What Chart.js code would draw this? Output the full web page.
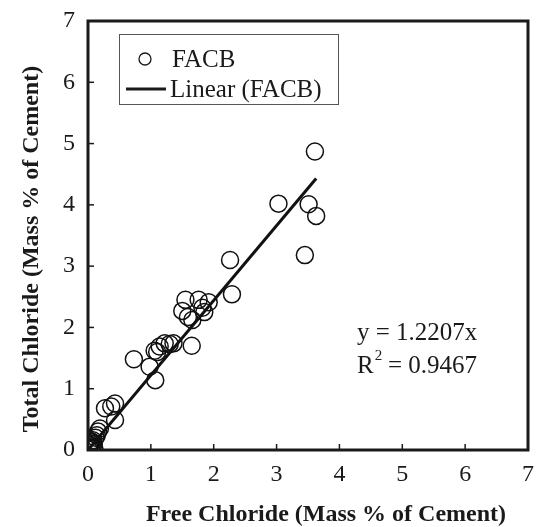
<!DOCTYPE html>
<html>
<head>
<script src="https://cdn.jsdelivr.net/npm/chart.js"></script>
<style>
  body { margin: 0; background: #fff; }
  canvas { display: block; }
</style>
</head>
<body>
<canvas id="chart" width="538" height="527"></canvas>
<script>
// free chloride (x) and total chloride (y), mass % of cement
const freeCl = [0.01, 0.02, 0.02, 0.03, 0.04, 0.05, 0.05, 0.06, 0.07, 0.08, 0.09, 0.10,
                0.12, 0.14, 0.16, 0.19,
                0.27, 0.37, 0.43, 0.43,
                0.73, 0.98, 1.07, 1.06, 1.10, 1.14, 1.22, 1.30, 1.36, 1.65,
                1.50, 1.55, 1.59, 1.66, 1.76, 1.82, 1.85, 1.92,
                2.26, 2.29, 3.03, 3.45, 3.51, 3.61, 3.63];
const totalCl = [0.01, 0.05, 0.09, 0.11, 0.03, 0.02, 0.13, 0.14, 0.06, 0.16, 0.10, 0.03,
                 0.20, 0.24, 0.30, 0.35,
                 0.68, 0.71, 0.76, 0.49,
                 1.48, 1.36, 1.14, 1.62, 1.60, 1.69, 1.74, 1.73, 1.74, 1.70,
                 2.27, 2.45, 2.17, 2.12, 2.45, 2.32, 2.25, 2.41,
                 3.10, 2.54, 4.02, 3.18, 4.01, 4.87, 3.82];
const slope = 1.2207;
const rSquared = 0.9467;
const fitRange = [0, 3.63];
const axisTicks = [0, 1, 2, 3, 4, 5, 6, 7];

const serif = "'Liberation Serif', 'Times New Roman', serif";

const points = freeCl.map((x, i) => ({ x: x, y: totalCl[i] }));
const fitLine = fitRange.map(x => ({ x: x, y: slope * x }));

// frame, inward ticks, legend box, equation and axis titles
const decor = {
  id: 'decor',
  afterDraw(chart) {
    const ctx = chart.ctx;
    const a = chart.chartArea;
    const xs = chart.scales.x, ys = chart.scales.y;
    ctx.save();
    ctx.strokeStyle = '#1a1a1a';
    ctx.lineWidth = 1.5;
    axisTicks.forEach(v => {
      const px = xs.getPixelForValue(v);
      ctx.beginPath(); ctx.moveTo(px, a.bottom); ctx.lineTo(px, a.bottom - 6); ctx.stroke();
      const py = ys.getPixelForValue(v);
      ctx.beginPath(); ctx.moveTo(a.left, py); ctx.lineTo(a.left + 6, py); ctx.stroke();
    });
    ctx.lineWidth = 3;
    ctx.strokeRect(a.left, a.top, a.right - a.left, a.bottom - a.top);

    // legend
    ctx.lineWidth = 1;
    ctx.strokeStyle = '#555';
    ctx.strokeRect(119.5, 34.5, 219, 70);
    ctx.fillStyle = '#1a1a1a';
    ctx.font = '25px ' + serif;
    ctx.textBaseline = 'alphabetic';
    ctx.textAlign = 'left';
    ctx.strokeStyle = '#1a1a1a';
    ctx.lineWidth = 1.3;
    ctx.beginPath(); ctx.arc(145, 59, 6, 0, Math.PI * 2); ctx.stroke();
    ctx.fillText(chart.data.datasets[0].label, 172, 67);
    ctx.lineWidth = 3;
    ctx.beginPath(); ctx.moveTo(126, 89); ctx.lineTo(166, 89); ctx.stroke();
    ctx.fillText(chart.data.datasets[1].label, 170, 97);

    // equation
    ctx.font = '25px ' + serif;
    ctx.fillText('y = ' + slope.toFixed(4) + 'x', 357, 340);
    ctx.fillText('R', 357, 373);
    const rw = ctx.measureText('R').width;
    ctx.font = '15px ' + serif;
    ctx.fillText('2', 357 + rw + 1, 360);
    ctx.font = '25px ' + serif;
    ctx.fillText(' = ' + rSquared.toFixed(4), 357 + rw + 8, 373);

    // axis titles
    ctx.font = 'bold 24px ' + serif;
    ctx.textAlign = 'center';
    ctx.fillText('Free Chloride (Mass % of Cement)', 326, 521);
    ctx.translate(38, 249);
    ctx.rotate(-Math.PI / 2);
    ctx.fillText('Total Chloride (Mass % of Cement)', 0, 0);
    ctx.restore();
  }
};

new Chart(document.getElementById('chart'), {
  type: 'scatter',
  data: {
    datasets: [{
      label: 'FACB',
      data: points,
      pointStyle: 'circle',
      pointRadius: 8.5,
      pointBorderWidth: 1.5,
      pointBorderColor: '#111',
      pointBackgroundColor: 'rgba(255,255,255,0)',
      order: 2
    }, {
      label: 'Linear (FACB)',
      type: 'line',
      data: fitLine,
      borderColor: '#111',
      borderWidth: 3,
      pointRadius: 0,
      fill: false,
      order: 1
    }]
  },
  options: {
    responsive: false,
    animation: false,
    layout: { padding: { top: 21, right: 8, left: 0, bottom: 0 } },
    plugins: { legend: { display: false }, tooltip: { enabled: false } },
    scales: {
      x: {
        type: 'linear', min: 0, max: 7,
        afterFit(s) { s.height = 77; s.paddingLeft = 0; s.paddingRight = 0; },
        grid: { display: false, drawTicks: false },
        border: { display: false },
        ticks: { stepSize: 1, padding: 10, color: '#1a1a1a', font: { family: serif, size: 24 } }
      },
      y: {
        type: 'linear', min: 0, max: 7,
        afterFit(s) { s.width = 88; s.paddingTop = 0; s.paddingBottom = 0; },
        grid: { display: false, drawTicks: false },
        border: { display: false },
        ticks: { stepSize: 1, padding: 13, color: '#1a1a1a', font: { family: serif, size: 24 } }
      }
    }
  },
  plugins: [decor]
});
</script>
</body>
</html>
